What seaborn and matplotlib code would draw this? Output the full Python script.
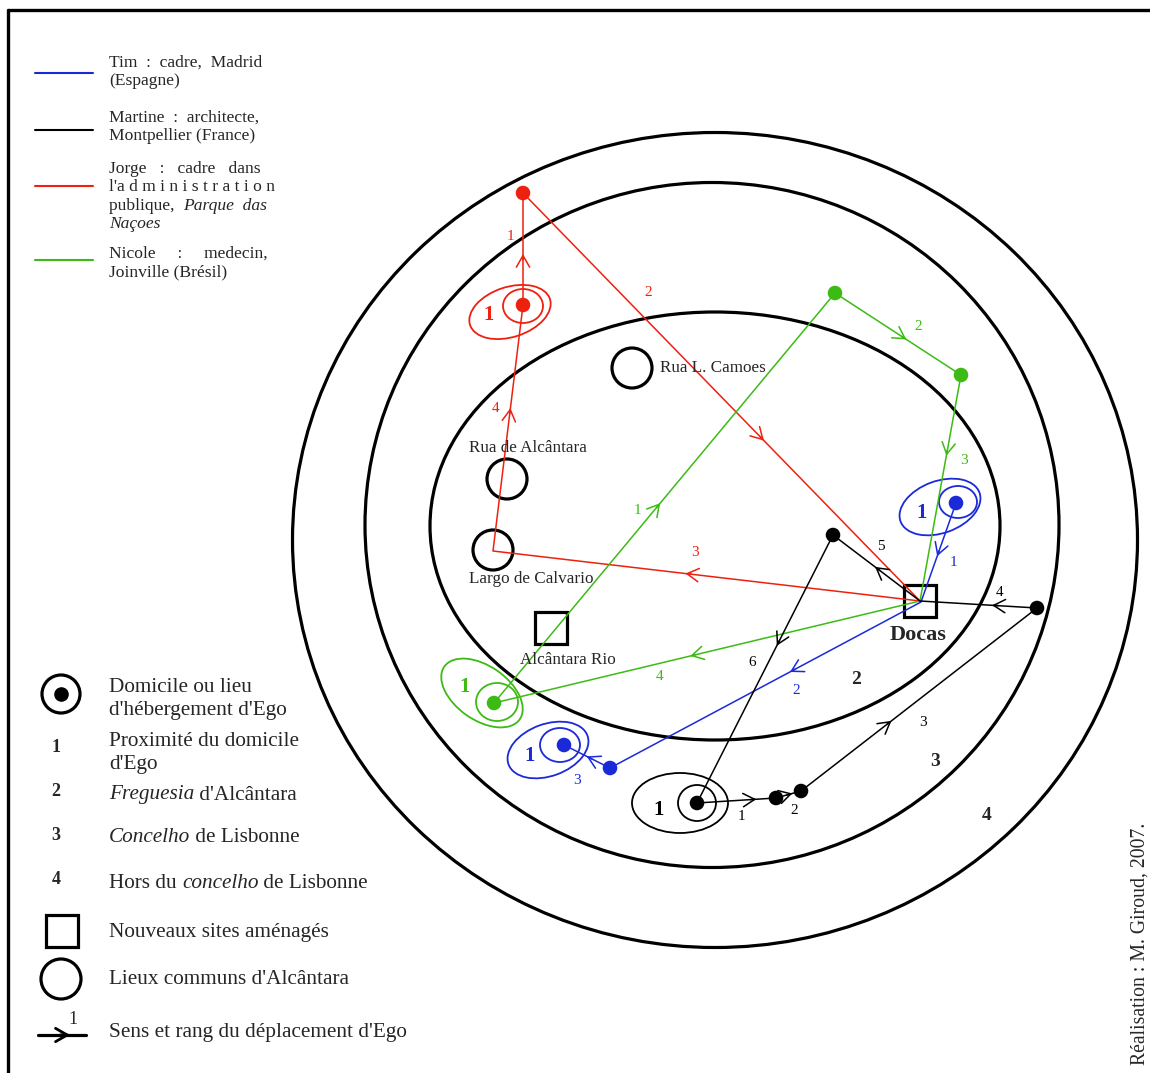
import numpy as np
import matplotlib
matplotlib.use("Agg")
import matplotlib.pyplot as plt
from matplotlib.patches import Ellipse, Circle, Rectangle
import seaborn as sns

# path vertices of each person (picture coordinates, y going down)
tim_x = [956, 921, 610, 564]
tim_y = [503, 602, 768, 745]
tim_arrow_t = [0.5, 0.41, 0.43]
tim_labels = [(953, 562, "1"), (796, 691, "2"), (577, 781, "3")]

martine_x = [697, 776, 801, 1037, 920, 833, 697]
martine_y = [803, 798, 791, 608, 601, 535, 803]
martine_arrow_t = [0.70, 0.5, 0.37, 0.35, 0.48, 0.40]
martine_labels = [(741, 817, "1"), (794, 811, "2"), (923, 722, "3"),
                  (1000, 593, "4"), (881, 546, "5"), (752, 663, "6")]

jorge_x = [523, 523, 920, 493, 523]
jorge_y = [305, 193, 601, 551, 305]
jorge_arrow_t = [0.42, 0.60, 0.54, 0.565]
jorge_labels = [(510, 236, "1"), (648, 292, "2"), (695, 553, "3"), (496, 409, "4")]

nicole_x = [494, 835, 961, 920, 494]
nicole_y = [703, 293, 375, 601, 703]
nicole_arrow_t = [0.48, 0.54, 0.34, 0.53]
nicole_labels = [(637, 510, "1"), (918, 327, "2"), (964, 461, "3"), (660, 677, "4")]

# dots (homes and visited places)
tim_dots = [(956, 503), (610, 768), (564, 745)]
martine_dots = [(697, 803), (776, 798), (801, 791), (1037, 608), (833, 535)]
jorge_dots = [(523, 305), (523, 193)]
nicole_dots = [(494, 703), (835, 293), (961, 375)]

# places
common_places = ["Rua L. Camoes", "Rua de Alcântara", "Largo de Calvario"]
common_xy = [(632, 368), (507, 479), (493, 550)]
new_sites = ["Alcântara Rio", "Docas"]
new_xy = [(551, 628), (920, 601)]

# concentric zones: centre x, centre y, width, height
zones_cx = [715, 712, 715]
zones_cy = [526, 525, 540]
zones_w = [570, 694, 845]
zones_h = [428, 685, 815]

RED = "#ee2010"
GREEN = "#3cbb14"
BLUE = "#1a2ad8"
BLACK = "#000000"

sns.set_theme(style="white")
plt.rcParams['font.family'] = ['Liberation Serif', 'DejaVu Serif']

fig = plt.figure(figsize=(11.5, 10.73), dpi=100)
ax = fig.add_axes([0, 0, 1, 1])
ax.set_xlim(0, 1150)
ax.set_ylim(1073, 0)
ax.axis("off")

# frame
ax.plot([8, 8], [1073, 10], color="black", lw=2.4)
ax.plot([8, 1150], [10, 10], color="black", lw=2.4)

# zones
for cx, cy, w, h in zip(zones_cx, zones_cy, zones_w, zones_h):
    ax.add_patch(Ellipse((cx, cy), w, h, fill=False, ec="black", lw=2.3))


def draw_person(xs, ys, ts, labels, dots, color):
    sns.lineplot(x=xs, y=ys, sort=False, estimator=None, color=color, lw=1.1, ax=ax)
    for i, t in enumerate(ts):
        a = np.array([xs[i], ys[i]], float)
        b = np.array([xs[i + 1], ys[i + 1]], float)
        d = (b - a) / np.linalg.norm(b - a)
        p = a + t * (b - a)
        ax.annotate("", xy=p + d * 4, xytext=p - d * 2,
                    arrowprops=dict(arrowstyle="->,head_length=0.7,head_width=0.4",
                                    color=color, lw=1.1, shrinkA=0, shrinkB=0))
    for x, y, s in labels:
        ax.text(x, y, s, color=color, fontsize=11, ha="center", va="center")
    dx = [p[0] for p in dots]
    dy = [p[1] for p in dots]
    sns.scatterplot(x=dx, y=dy, color=color, s=110, edgecolor="none", ax=ax, zorder=5)


def home_rings(inner, outer, color, lab):
    ax.add_patch(Ellipse(inner[:2], inner[2], inner[3], fill=False, ec=color, lw=1.3))
    ax.add_patch(Ellipse(outer[:2], outer[2], outer[3], angle=outer[4], fill=False,
                         ec=color, lw=1.3))
    ax.text(lab[0], lab[1], "1", color=color, fontsize=15, fontweight="bold",
            ha="center", va="center")


# common places and new sites
fp = 12.3
for name, (x, y) in zip(common_places, common_xy):
    ax.add_patch(Circle((x, y), 20, fill=False, ec="black", lw=2.3))
ax.text(660, 368, common_places[0], fontsize=fp, ha="left", va="center")
ax.text(528, 448, common_places[1], fontsize=fp, ha="center", va="center")
ax.text(531, 579, common_places[2], fontsize=fp, ha="center", va="center")
for name, (x, y) in zip(new_sites, new_xy):
    ax.add_patch(Rectangle((x - 16, y - 16), 32, 32, fill=False, ec="black", lw=2.3))
ax.text(568, 660, new_sites[0], fontsize=fp, ha="center", va="center")
ax.text(918, 635, new_sites[1], fontsize=16, fontweight="bold", ha="center", va="center")

draw_person(jorge_x, jorge_y, jorge_arrow_t, jorge_labels, jorge_dots, RED)
draw_person(nicole_x, nicole_y, nicole_arrow_t, nicole_labels, nicole_dots, GREEN)
draw_person(tim_x, tim_y, tim_arrow_t, tim_labels, tim_dots, BLUE)
draw_person(martine_x, martine_y, martine_arrow_t, martine_labels, martine_dots, BLACK)

home_rings((523, 306, 40, 34), (510, 312, 84, 50, -18), RED, (489, 315))
home_rings((497, 702, 42, 38), (482, 693, 92, 54, 35), GREEN, (465, 687))
home_rings((560, 745, 40, 34), (548, 750, 84, 52, -20), BLUE, (530, 756))
home_rings((958, 502, 38, 32), (940, 507, 84, 52, -20), BLUE, (922, 513))
home_rings((697, 803, 38, 36), (680, 803, 96, 60, 0), BLACK, (659, 810))

# zone numbers
for x, y, s in [(856, 680, "2"), (935, 761, "3"), (987, 816, "4")]:
    ax.text(x, y, s, fontsize=14, fontweight="bold", ha="center", va="center")

# top legend
leg_colors = [BLUE, BLACK, RED, GREEN]
leg_line_y = [73, 130, 186, 260]
for c, y in zip(leg_colors, leg_line_y):
    ax.plot([35, 93], [y, y], color=c, lw=1.5)

fs = 12.6
ax.text(109, 63, "Tim  :  cadre,  Madrid", fontsize=fs, va="center")
ax.text(109, 81, "(Espagne)", fontsize=fs, va="center")
ax.text(109, 118, "Martine  :  architecte,", fontsize=fs, va="center")
ax.text(109, 136, "Montpellier (France)", fontsize=fs, va="center")
ax.text(109, 169, "Jorge   :   cadre   dans", fontsize=fs, va="center")
ax.text(109, 187, "l'a d m i n i s t r a t i o n", fontsize=fs, va="center")
t1 = ax.text(109, 206, "publique,  ", fontsize=fs, va="center")
ax.annotate("Parque  das", xy=(1, 0.5), xycoords=t1, fontsize=fs, style="italic",
            va="center", ha="left")
ax.text(109, 224, "Naçoes", fontsize=fs, style="italic", va="center")
ax.text(109, 254, "Nicole     :     medecin,", fontsize=fs, va="center")
ax.text(109, 272, "Joinville (Brésil)", fontsize=fs, va="center")

# bottom legend
fl = 15.3
ax.add_patch(Circle((61, 694), 19, fill=False, ec="black", lw=2.3))
ax.scatter([61], [694], s=90, color="black", zorder=5)
ax.text(109, 687, "Domicile ou lieu", fontsize=fl, va="center")
ax.text(109, 710, "d'hébergement d'Ego", fontsize=fl, va="center")
for y, s in [(748, "1"), (792, "2"), (835, "3"), (880, "4")]:
    ax.text(56, y, s, fontsize=13, fontweight="bold", ha="center", va="center")
ax.text(109, 741, "Proximité du domicile", fontsize=fl, va="center")
ax.text(109, 765, "d'Ego", fontsize=fl, va="center")
t2 = ax.text(109, 795, "Freguesia", fontsize=fl, style="italic", va="center")
ax.annotate(" d'Alcântara", xy=(1, 0.5), xycoords=t2, fontsize=fl, va="center", ha="left")
t3 = ax.text(109, 838, "Concelho", fontsize=fl, style="italic", va="center")
ax.annotate(" de Lisbonne", xy=(1, 0.5), xycoords=t3, fontsize=fl, va="center", ha="left")
t4 = ax.text(109, 883, "Hors du ", fontsize=fl, va="center")
t5 = ax.annotate("concelho", xy=(1, 0.5), xycoords=t4, fontsize=fl, style="italic",
                 va="center", ha="left")
ax.annotate(" de Lisbonne", xy=(1, 0.5), xycoords=t5, fontsize=fl, va="center", ha="left")
ax.add_patch(Rectangle((46, 915), 32, 32, fill=False, ec="black", lw=2.3))
ax.text(109, 932, "Nouveaux sites aménagés", fontsize=fl, va="center")
ax.add_patch(Circle((61, 979), 20, fill=False, ec="black", lw=2.3))
ax.text(109, 980, "Lieux communs d'Alcântara", fontsize=fl, va="center")
ax.plot([38, 86], [1035, 1035], color="black", lw=2.3)
ax.annotate("", xy=(70, 1035), xytext=(60, 1035),
            arrowprops=dict(arrowstyle="->,head_length=0.7,head_width=0.4",
                            color="black", lw=2.0, shrinkA=0, shrinkB=0))
ax.text(73, 1019, "1", fontsize=13, ha="center", va="center")
ax.text(109, 1032, "Sens et rang du déplacement d'Ego", fontsize=fl, va="center")

ax.text(1140, 1065, "Réalisation : M. Giroud, 2007.", fontsize=14.2, rotation=90,
        ha="center", va="bottom")

fig.savefig("out.png", dpi=100)
